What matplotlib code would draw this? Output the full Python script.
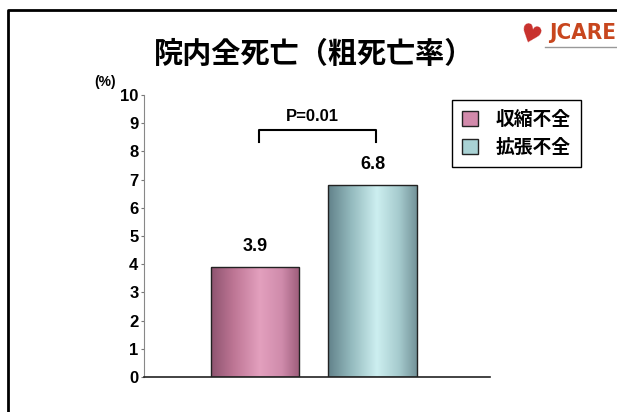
import matplotlib.pyplot as plt
import numpy as np
from matplotlib.colors import LinearSegmentedColormap
from matplotlib.patches import Patch
from matplotlib.lines import Line2D

# in-hospital all-cause mortality, crude rate (%)
groups = ['収縮不全', '拡張不全']
mortality = [3.9, 6.8]
value_labels = ['3.9', '6.8']
p_label = 'P=0.01'
title = '院内全死亡（粗死亡率）'
y_ticks = list(range(0, 11))

# cylinder-like shading for each bar, left edge -> right edge
shades = [
    ['#8e5470', '#bd7594', '#e3a0be', '#cf8bab', '#9d5d7b'],
    ['#62828a', '#92b8bc', '#cdeff0', '#a6cbce', '#74949a'],
]
legend_colors = ['#d28aab', '#a9d2d4']

jp_font = ['Noto Sans CJK JP', 'DejaVu Sans']
num_font = ['Liberation Sans', 'DejaVu Sans']


def shadedBar(ax, x, h, width, colors):
    cmap = LinearSegmentedColormap.from_list('shade', list(zip([0, 0.25, 0.55, 0.8, 1], colors)))
    grad = np.linspace(0, 1, 200).reshape(1, -1)
    ax.imshow(grad, cmap=cmap, aspect='auto', extent=(x - width / 2, x + width / 2, 0, h),
              origin='lower', zorder=2)
    ax.bar(x, h, width=width, fill=False, edgecolor='#222222', linewidth=1.0, zorder=3)


def main():
    fig = plt.figure(figsize=(6.17, 4.12), dpi=100)
    ax = fig.add_axes([0.2334, 0.085, 0.5608, 0.6844])

    xs = np.arange(len(groups))
    width = 0.75
    for x, h, c, lab in zip(xs, mortality, shades, value_labels):
        shadedBar(ax, x, h, width, c)
        ax.annotate(lab, (x, h), xytext=(0, 15), textcoords='offset points',
                    ha='center', va='center', fontsize=13, fontweight='bold', family=num_font)

    ax.set_xlim(-0.945, 2.0)
    ax.set_ylim(0, 10)
    ax.set_yticks(y_ticks)
    ax.set_xticks([])
    ax.tick_params(axis='y', length=2.5, width=0.8, color='#777777', pad=1.5)
    for t in ax.get_yticklabels():
        t.set_fontsize(12)
        t.set_fontweight('bold')
        t.set_family(num_font)
    ax.spines['top'].set_visible(False)
    ax.spines['right'].set_visible(False)
    ax.spines['left'].set_color('#888888')
    ax.spines['left'].set_linewidth(0.8)
    ax.spines['bottom'].set_color('#222222')
    ax.spines['bottom'].set_linewidth(1.2)

    # significance bracket
    ax.plot([0.03, 0.03, 1.03, 1.03], [8.33, 8.76, 8.76, 8.33], color='black', lw=1.5,
            clip_on=False, zorder=4)
    ax.text(0.49, 9.25, p_label, ha='center', va='center', fontsize=12, fontweight='bold',
            family=num_font)

    handles = [Patch(facecolor=c, edgecolor='#222222', linewidth=1.0, label=g)
               for g, c in zip(groups, legend_colors)]
    leg = ax.legend(handles=handles, loc='upper left', bbox_to_anchor=(452 / 617, 1 - 100 / 412),
                    bbox_transform=fig.transFigure, borderaxespad=0, fancybox=False,
                    edgecolor='black', framealpha=1, handlelength=0.85, handleheight=0.85,
                    handletextpad=0.95, labelspacing=0.45, borderpad=0.55,
                    prop={'family': jp_font, 'weight': 'bold', 'size': 13.5})
    leg.get_frame().set_linewidth(1.0)

    fig.text(314 / 617, 1 - 54 / 412, title, ha='center', va='center', fontsize=21,
             fontweight='bold', family=jp_font)
    fig.text(105 / 617, 1 - 82 / 412, '(%)', ha='center', va='center', fontsize=10,
             fontweight='bold', family=num_font)

    # logo in the corner
    fig.text(530 / 617, 1 - 36 / 412, '♥', ha='center', va='center', fontsize=18,
             color='#c8302c', rotation=-20, family='DejaVu Sans')
    fig.text(616 / 617, 1 - 33 / 412, 'JCARE', ha='right', va='center', fontsize=16,
             fontweight='bold', color='#c8461e', family='DejaVu Sans', fontstretch='condensed')
    fig.add_artist(Line2D([545 / 617, 617 / 617], [1 - 47 / 412, 1 - 47 / 412],
                          transform=fig.transFigure, color='#999999', lw=1))

    # slide frame
    fig.add_artist(Line2D([8 / 617, 8 / 617, 1], [0, 1 - 10 / 412, 1 - 10 / 412],
                          transform=fig.transFigure, color='black', lw=2))

    fig.savefig('out.png', dpi=100)


if __name__ == '__main__':
    main()
